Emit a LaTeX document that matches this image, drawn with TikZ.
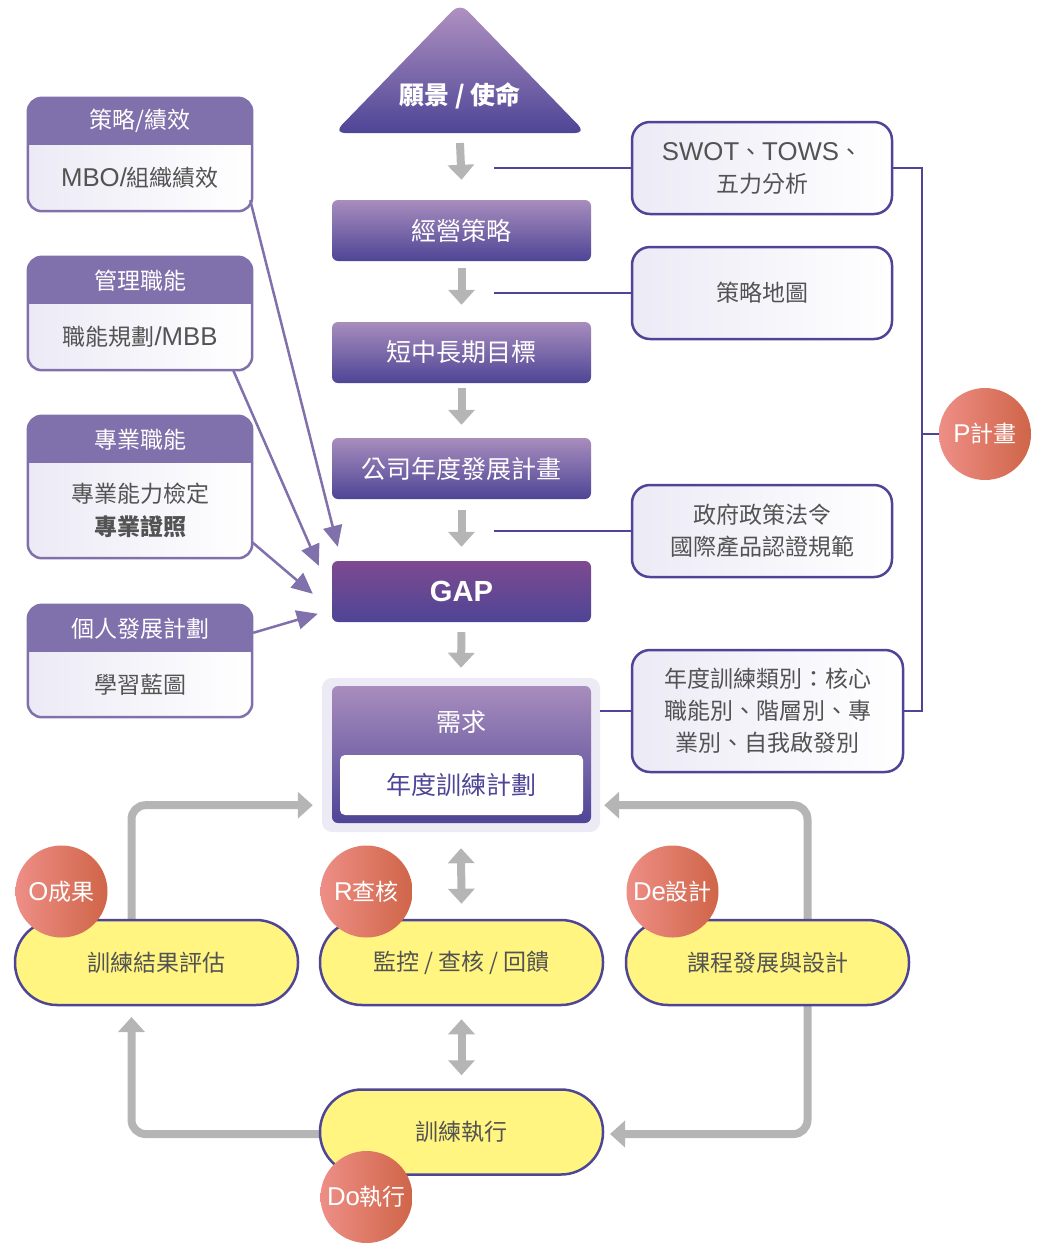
\documentclass[tikz,border=0pt]{standalone}
\usepackage{fontspec}
\setmainfont{Noto Sans CJK TC}
\newfontfamily\latin{Liberation Sans}[Scale=1.12]
\usetikzlibrary{arrows.meta,positioning,calc}
\usepackage{xcolor}
\definecolor{plum}{HTML}{8070AB}
\definecolor{ink}{HTML}{4E4597}
\definecolor{lilac}{HTML}{ECEAF5}
\definecolor{stone}{HTML}{B4B5B4}
\definecolor{txtgray}{HTML}{535353}
\definecolor{sunny}{HTML}{FFF580}
\definecolor{coralL}{HTML}{EE8E86}
\definecolor{coralR}{HTML}{CF6548}
\definecolor{stagetop}{HTML}{A88DBD}
\definecolor{stagebot}{HTML}{4E4596}
\definecolor{gaptop}{HTML}{7E4A90}
\definecolor{tritop}{HTML}{B293C2}
\tikzset{
  stagebox/.style={rounded corners=6pt,top color=stagetop,bottom color=stagebot,text=white,minimum width=259pt,minimum height=61pt,font=\fontsize{25}{30}\selectfont},
  gapbox/.style={stagebox,top color=gaptop,font=\fontsize{26}{30}\selectfont\latin\bfseries},
  notebox/.style={draw=ink,line width=2.5pt,rounded corners=18pt,left color=lilac,right color=white,minimum width=260pt,minimum height=92pt,align=center,text=txtgray,font=\fontsize{23}{32}\selectfont},
  cardbox/.style={rounded corners=14pt,left color=lilac,right color=white,minimum width=224pt},
  cardhead/.style={text=white,font=\fontsize{23}{28}\selectfont},
  cardtext/.style={text=txtgray,align=center,font=\fontsize{23}{33}\selectfont},
  pill/.style={draw=ink,line width=2.5pt,fill=sunny,rounded corners=42pt,minimum width=283pt,minimum height=85pt,text=txtgray,font=\fontsize{23}{28}\selectfont},
  badge/.style={circle,left color=coralL,right color=coralR,minimum size=92pt,inner sep=0pt,text=white,font=\fontsize{23}{28}\selectfont},
  link/.style={draw=ink,line width=2.5pt},
  feed/.style={-{Triangle[length=21pt,width=19pt]},draw=plum,line width=2.5pt},
  flowarr/.style={-{Triangle[length=15pt,width=26pt]},draw=stone,line width=8pt},
  looparr/.style={flowarr,rounded corners=14pt},
  twoway/.style={{Triangle[length=15pt,width=26pt]}-{Triangle[length=15pt,width=26pt]},draw=stone,line width=8pt}
}
% card with a purple header strip
\newcommand{\infocard}[5]{%
  \node[cardbox,minimum height=#3pt] (#1) at (140,#2) {};
  \begin{scope}
    \clip[rounded corners=14pt] (#1.north west) rectangle (#1.south east);
    \fill[plum] (#1.north west) rectangle ([yshift=-47pt]#1.north east);
  \end{scope}
  \draw[plum,line width=2.5pt,rounded corners=14pt] (#1.north west) rectangle (#1.south east);
  \node[cardhead] at ([yshift=-23.5pt]#1.north) {#4};
  \node[cardtext] at ($([yshift=-47pt]#1.north)!0.5!(#1.south)$) {#5};
}

\begin{document}
\begin{tikzpicture}[x=1pt,y=-1pt]
  \useasboundingbox (0,0) rectangle (1049,1243);

  % top of the chain
  \shade[top color=tritop,bottom color=stagebot,rounded corners=11pt] (460,3) -- (586,133) -- (334,133) -- cycle;
  \coordinate (visbase) at (460,133);
  \node[text=white,font=\fontsize{25}{30}\selectfont\bfseries] (vision) at (460,96) {願景 / 使命};
  \node[stagebox] (biz) at (461.5,230.5) {經營策略};
  \node[stagebox] (goal) at (461.5,352.5) {短中長期目標};
  \node[stagebox] (plan) at (461.5,468.5) {公司年度發展計畫};
  \node[gapbox] (gap) at (461.5,591.5) {GAP};

  % need block
  \node[fill=lilac,rounded corners=10pt,minimum width=278pt,minimum height=154pt] (needbg) at (461,755) {};
  \node[stagebox,minimum height=137pt] (need) at (461.5,754.5) {};
  \node[text=white,font=\fontsize{25}{30}\selectfont] (needtxt) at (461,722) {需求};
  \node[fill=white,rounded corners=5pt,minimum width=243pt,minimum height=60pt,text=ink,font=\fontsize{25}{30}\selectfont] (yearplan) at (461.5,785) {年度訓練計劃};

  \draw[flowarr] ([yshift=-10pt]visbase) -- ([yshift=20pt]biz.north);
  \draw[flowarr] ([yshift=-7pt]biz.south) -- ([yshift=17pt]goal.north);
  \draw[flowarr] ([yshift=-5pt]goal.south) -- ([yshift=13pt]plan.north);
  \draw[flowarr] ([yshift=-11pt]plan.south) -- ([yshift=14pt]gap.north);
  \draw[flowarr] ([yshift=-10pt]gap.south) -- ([yshift=10pt]needbg.north);

  % right side notes
  \node[notebox] (swot) at (762,168) {{\latin SWOT}、{\latin TOWS}、\\五力分析};
  \node[notebox] (smap) at (762,293) {策略地圖};
  \node[notebox] (gov) at (762,531) {政府政策法令\\國際產品認證規範};
  \node[notebox,minimum width=271pt,minimum height=122pt] (annual) at (767.5,711) {年度訓練類別：核心\\職能別、階層別、專\\業別、自我啟發別};
  \node[badge] (pbadge) at (985,434) {{\latin P}計畫};
  \coordinate (rail) at (922,0);
  \draw[link] (swot.west) -- ++(-137,0);
  \draw[link] (smap.west) -- ++(-137,0);
  \draw[link] (gov.west) -- ++(-137,0);
  \draw[link] (annual.west) -- (annual.west -| needbg.east);
  \draw[link] (swot.east) -| (rail |- annual.east) -- (annual.east);
  \draw[link] (rail |- pbadge.west) -- (pbadge.west);

  % left side cards
  \infocard{strat}{154.5}{113}{策略/績效}{{\latin MBO/}組織績效}
  \infocard{mgmt}{313.5}{113}{管理職能}{職能規劃{\latin /MBB}}
  \infocard{prof}{487}{142}{專業職能}{專業能力檢定\\\textbf{專業證照}}
  \infocard{idp}{661}{112}{個人發展計劃}{學習藍圖}
  \draw[feed] ([xshift=-2pt,yshift=11pt]strat.south east) -- ([xshift=6pt,yshift=14pt]gap.north west);
  \draw[feed] ([xshift=-19pt]mgmt.south east) -- ([xshift=-13pt,yshift=-5pt]gap.north west);
  \draw[feed] ([yshift=16pt]prof.south east) -- ([xshift=-19pt,yshift=-33pt]gap.north west);
  \draw[feed] ([xshift=1pt,yshift=-28pt]idp.north east) -- ([xshift=-14pt,yshift=-53pt]gap.north west);

  % training cycle
  \coordinate (evaltop) at (156.5,920);
  \draw[looparr] ([xshift=-25pt]evaltop) |- ([xshift=-9pt,yshift=27pt]needbg.south west);
  \draw[looparr] (807.5,920) |- ([xshift=4pt,yshift=27pt]needbg.south east);
  \draw[looparr] (807.5,1005) |- (610,1134);
  \draw[looparr] (320,1134) -| (131.5,1017);
  \node[pill] (eval) at (156.5,962.5) {訓練結果評估};
  \node[pill] (monitor) at (461.5,962.5) {監控 / 查核 / 回饋};
  \node[pill] (design) at (767.5,962.5) {課程發展與設計};
  \node[pill] (exec) at (461.5,1132) {訓練執行};
  \draw[twoway] ([yshift=-16pt]needbg.south) -- ([yshift=15pt]monitor.north);
  \draw[twoway] ([yshift=-13pt]monitor.south) -- ([yshift=13pt]exec.north);
  \node[badge] (obadge) at ([shift={(-95,-71)}]eval.center) {{\latin O}成果};
  \node[badge] (rbadge) at ([shift={(-95,-71)}]monitor.center) {{\latin R}查核};
  \node[badge] (debadge) at ([shift={(-95,-71)}]design.center) {{\latin De}設計};
  \node[badge] (dobadge) at ([shift={(-95,65)}]exec.center) {{\latin Do}執行};
\end{tikzpicture}
\end{document}
